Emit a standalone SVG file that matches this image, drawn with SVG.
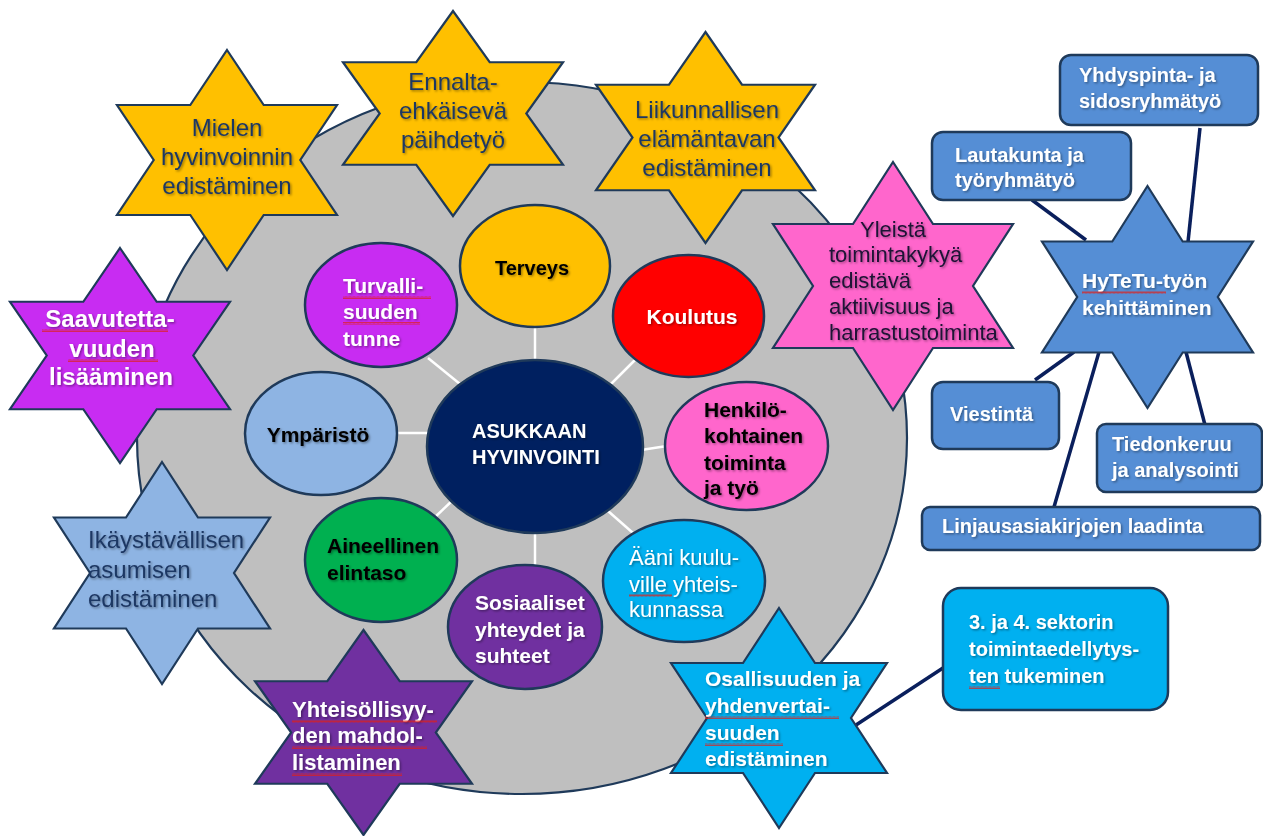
<svg xmlns="http://www.w3.org/2000/svg" width="1263" height="836" viewBox="0 0 1263 836">
<defs>
<style>
.star{stroke:#1F3A5A;stroke-width:2.2;stroke-linejoin:miter}
.ell{stroke:#1F3A5A;stroke-width:2.5}
.box{stroke:#1F3A5A;stroke-width:2.5;fill:#558ED5}
.spoke{stroke:#FFFFFF;stroke-width:2.5;fill:none}
.link{stroke:#0A1F5C;stroke-width:3.5;fill:none}
text{font-family:"Liberation Sans",Arial,sans-serif}
.tn{font-size:24px;fill:#1F3864;filter:url(#sh)}
.tb{font-weight:bold;fill:#FFFFFF;filter:url(#sh)}
.tk{font-weight:bold;fill:#000000;filter:url(#sh)}
.mid{text-anchor:middle}
.sq{fill:url(#squig)}
</style>
<filter id="sh" x="-10%" y="-20%" width="130%" height="150%">
<feDropShadow dx="1.3" dy="1.3" stdDeviation="0.9" flood-color="#000000" flood-opacity="0.4"/>
</filter>
<pattern id="squig" width="4" height="3" patternUnits="userSpaceOnUse">
<path d="M0,2.6 L1,0.4 L2,2.6 L3,0.4 L4,2.6" stroke="#E0201A" stroke-width="0.7" fill="none"/>
</pattern>
</defs>
<rect width="1263" height="836" fill="#FFFFFF"/>

<g id="background">
<ellipse cx="522" cy="438" rx="385" ry="356" fill="#BFBFBF" stroke="#1F3A5A" stroke-width="2.2"/>
</g>

<g id="connectors">
<line class="spoke" x1="535" y1="327" x2="535" y2="362"/>
<line class="spoke" x1="428" y1="358" x2="460" y2="384"/>
<line class="spoke" x1="396" y1="433" x2="429" y2="433"/>
<line class="spoke" x1="636" y1="359" x2="610" y2="385"/>
<line class="spoke" x1="641" y1="450" x2="667" y2="446"/>
<line class="spoke" x1="608" y1="511" x2="633" y2="533"/>
<line class="spoke" x1="535" y1="531" x2="535" y2="566"/>
<line class="spoke" x1="455" y1="498" x2="432" y2="520"/>
<line class="link" x1="1032" y1="200" x2="1086" y2="240"/>
<line class="link" x1="1200" y1="128" x2="1188" y2="242"/>
<line class="link" x1="1035" y1="380" x2="1074" y2="352"/>
<line class="link" x1="1054" y1="507" x2="1099" y2="352"/>
<line class="link" x1="1205" y1="425" x2="1186" y2="352"/>
<line class="link" x1="856" y1="725" x2="946" y2="666"/>
</g>

<g id="star-mielen">
<polygon class="star" fill="#FFC000" points="227,50 263.7,105 337,105 300.3,160 337,215 263.7,215 227,270 190.3,215 117,215 153.7,160 117,105 190.3,105"/>
<text class="tn mid" x="227" y="136">Mielen</text>
<text class="tn mid" x="227" y="165">hyvinvoinnin</text>
<text class="tn mid" x="227" y="194">edistäminen</text>
</g>

<g id="star-ennalta">
<polygon class="star" fill="#FFC000" points="453,11 489.7,62.25 563,62.25 526.3,113.5 563,164.75 489.7,164.75 453,216 416.3,164.75 343,164.75 379.7,113.5 343,62.25 416.3,62.25"/>
<text class="tn mid" x="453" y="90">Ennalta-</text>
<text class="tn mid" x="453" y="119">ehkäisevä</text>
<text class="tn mid" x="453" y="148">päihdetyö</text>
</g>

<g id="star-liikunta">
<polygon class="star" fill="#FFC000" points="705.5,32 742,84.75 815,84.75 778.5,137.5 815,190.25 742,190.25 705.5,243 669,190.25 596,190.25 632.5,137.5 596,84.75 669,84.75"/>
<text class="tn mid" x="707" y="118">Liikunnallisen</text>
<text class="tn mid" x="707" y="147">elämäntavan</text>
<text class="tn mid" x="707" y="176">edistäminen</text>
</g>

<g id="star-yleista">
<polygon class="star" fill="#FF66CC" points="893,162 933,224 1013,224 973,286 1013,348 933,348 893,410 853,348 773,348 813,286 773,224 853,224"/>
<g style="font-size:22px;fill:#1E1235" filter="url(#sh)">
<text x="860" y="237">Yleistä</text>
<text x="829" y="262">toimintakykyä</text>
<text x="829" y="288">edistävä</text>
<text x="829" y="314">aktiivisuus ja</text>
<text x="829" y="340">harrastustoiminta</text>
</g>
</g>

<g id="star-hytetu">
<polygon class="star" fill="#558ED5" points="1147.5,186 1182.7,241.5 1253,241.5 1217.8,297 1253,352.5 1182.7,352.5 1147.5,408 1112.3,352.5 1042,352.5 1077.2,297 1042,241.5 1112.3,241.5"/>
<text class="tb" style="font-size:21px" x="1082" y="288">HyTeTu-työn</text>
<text class="tb" style="font-size:21px" x="1082" y="315">kehittäminen</text>
<rect class="sq" x="1082" y="291" width="84" height="3"/>
</g>

<g id="star-saavutettavuus">
<polygon class="star" fill="#C82CF2" points="120,248 156.7,301.75 230,301.75 193.3,355.5 230,409.25 156.7,409.25 120,463 83.3,409.25 10,409.25 46.7,355.5 10,301.75 83.3,301.75"/>
<text class="tb mid" style="font-size:24px" x="110" y="327">Saavutetta-</text>
<text class="tb mid" style="font-size:24px" x="112" y="357">vuuden</text>
<text class="tb mid" style="font-size:24px" x="111" y="385">lisääminen</text>
<rect class="sq" x="42" y="329" width="126" height="3"/>
<rect class="sq" x="68" y="359" width="90" height="3"/>
</g>

<g id="star-ikaystavallinen">
<polygon class="star" fill="#8EB4E3" points="162,462 198,517.5 270,517.5 234,573 270,628.5 198,628.5 162,684 126,628.5 54,628.5 90,573 54,517.5 126,517.5"/>
<text class="tn" x="88" y="548">Ikäystävällisen</text>
<text class="tn" x="88" y="578">asumisen</text>
<text class="tn" x="88" y="607">edistäminen</text>
</g>

<g id="star-yhteisollisyys">
<polygon class="star" fill="#7030A0" points="363.5,630 399.7,681.25 472,681.25 435.8,732.5 472,783.75 399.7,783.75 363.5,835 327.3,783.75 255,783.75 291.2,732.5 255,681.25 327.3,681.25"/>
<text class="tb" style="font-size:22px" x="292" y="717">Yhteisöllisyy-</text>
<text class="tb" style="font-size:22px" x="292" y="743">den mahdol-</text>
<text class="tb" style="font-size:22px" x="292" y="770">listaminen</text>
<rect class="sq" x="292" y="720" width="145" height="3"/>
<rect class="sq" x="292" y="746" width="135" height="3"/>
<rect class="sq" x="292" y="773" width="110" height="3"/>
</g>

<g id="star-osallisuus">
<polygon class="star" fill="#00B0F0" points="779,608 815,663 887,663 851,718 887,773 815,773 779,828 743,773 671,773 707,718 671,663 743,663"/>
<text class="tb" style="font-size:21px" x="705" y="686">Osallisuuden ja</text>
<text class="tb" style="font-size:21px" x="705" y="713">yhdenvertai-</text>
<text class="tb" style="font-size:21px" x="705" y="740">suuden</text>
<text class="tb" style="font-size:21px" x="705" y="766">edistäminen</text>
<rect class="sq" x="705" y="716" width="134" height="3"/>
<rect class="sq" x="705" y="743" width="78" height="3"/>
</g>

<g id="node-terveys">
<ellipse class="ell" cx="535" cy="266" rx="75" ry="61" fill="#FFC000"/>
<text class="tk mid" style="font-size:20px" x="532" y="275">Terveys</text>
</g>

<g id="node-turvallisuus">
<ellipse class="ell" cx="381" cy="305" rx="76" ry="62" fill="#C82CF2"/>
<text class="tb" style="font-size:21px" x="343" y="293">Turvalli-</text>
<text class="tb" style="font-size:21px" x="343" y="319">suuden</text>
<text class="tb" style="font-size:21px" x="343" y="346">tunne</text>
<rect class="sq" x="343" y="296" width="88" height="3"/>
<rect class="sq" x="343" y="322" width="77" height="3"/>
</g>

<g id="node-ymparisto">
<ellipse class="ell" cx="321" cy="433.5" rx="76" ry="61.5" fill="#8EB4E3"/>
<text class="tk mid" style="font-size:21px" x="318" y="442">Ympäristö</text>
</g>

<g id="node-center">
<ellipse class="ell" cx="535" cy="446.5" rx="108" ry="86.5" fill="#002060"/>
<text class="tb" style="font-size:20px" x="472" y="438">ASUKKAAN</text>
<text class="tb" style="font-size:20px" x="472" y="464">HYVINVOINTI</text>
</g>

<g id="node-koulutus">
<ellipse class="ell" cx="688.5" cy="316" rx="75.5" ry="61" fill="#FF0000"/>
<text class="tb mid" style="font-size:21px" x="692" y="324">Koulutus</text>
</g>

<g id="node-henkilo">
<ellipse class="ell" cx="746.5" cy="446" rx="81.5" ry="64" fill="#FF66CC"/>
<text class="tk" style="font-size:21px" x="704" y="417">Henkilö-</text>
<text class="tk" style="font-size:21px" x="704" y="443">kohtainen</text>
<text class="tk" style="font-size:21px" x="704" y="470">toiminta</text>
<text class="tk" style="font-size:21px" x="704" y="495">ja työ</text>
</g>

<g id="node-aani">
<ellipse class="ell" cx="684" cy="581" rx="81" ry="61" fill="#00B0F0"/>
<g style="font-size:22px;fill:#FFFFFF" filter="url(#sh)">
<text x="629" y="565">Ääni kuulu-</text>
<text x="629" y="592">ville yhteis-</text>
<text x="629" y="617">kunnassa</text>
</g>
<rect class="sq" x="629" y="594" width="43" height="3"/>
</g>

<g id="node-sosiaaliset">
<ellipse class="ell" cx="525" cy="627" rx="77" ry="62" fill="#7030A0"/>
<text class="tb" style="font-size:21px" x="475" y="610">Sosiaaliset</text>
<text class="tb" style="font-size:21px" x="475" y="637">yhteydet ja</text>
<text class="tb" style="font-size:21px" x="475" y="663">suhteet</text>
</g>

<g id="node-aineellinen">
<ellipse class="ell" cx="381" cy="560" rx="76" ry="62" fill="#00B050"/>
<text class="tk" style="font-size:21px" x="327" y="553">Aineellinen</text>
<text class="tk" style="font-size:21px" x="327" y="580">elintaso</text>
</g>

<g id="box-yhdyspinta">
<rect class="box" x="1060" y="55" width="198" height="70" rx="11"/>
<text class="tb" style="font-size:20px" x="1079" y="82">Yhdyspinta- ja</text>
<text class="tb" style="font-size:20px" x="1079" y="108">sidosryhmätyö</text>
</g>

<g id="box-lautakunta">
<rect class="box" x="932" y="132" width="199" height="68" rx="11"/>
<text class="tb" style="font-size:20px" x="955" y="162">Lautakunta ja</text>
<text class="tb" style="font-size:20px" x="955" y="187">työryhmätyö</text>
</g>

<g id="box-viestinta">
<rect class="box" x="932" y="382" width="127" height="67" rx="11"/>
<text class="tb" style="font-size:20px" x="950" y="421">Viestintä</text>
</g>

<g id="box-tiedonkeruu">
<rect class="box" x="1097" y="424" width="165" height="68" rx="9"/>
<text class="tb" style="font-size:20px" x="1112" y="451">Tiedonkeruu</text>
<text class="tb" style="font-size:20px" x="1112" y="477">ja analysointi</text>
</g>

<g id="box-linjaus">
<rect class="box" x="922" y="507" width="338" height="43" rx="8"/>
<text class="tb" style="font-size:20px" x="942" y="533">Linjausasiakirjojen laadinta</text>
</g>

<g id="box-sektori">
<rect x="943" y="588" width="225" height="122" rx="18" fill="#00B0F0" stroke="#1F3A5A" stroke-width="2.5"/>
<text class="tb" style="font-size:20px" x="969" y="629">3. ja 4. sektorin</text>
<text class="tb" style="font-size:20px" x="969" y="656">toimintaedellytys-</text>
<text class="tb" style="font-size:20px" x="969" y="683">ten tukeminen</text>
<rect class="sq" x="969" y="686" width="31" height="3"/>
</g>
</svg>
